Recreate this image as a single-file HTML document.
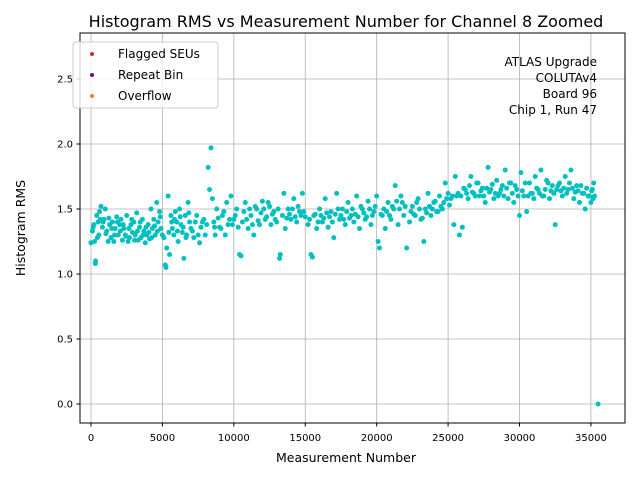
<!DOCTYPE html>
<html><head><meta charset="utf-8"><style>
body{margin:0;background:#fff;}
svg text{font-family:"DejaVu Sans","Liberation Sans",sans-serif;}
</style></head><body>
<svg id="chart" width="640" height="480" xmlns="http://www.w3.org/2000/svg">
<rect width="640" height="480" fill="#fff"/>
<text x="346" y="27" font-size="16" text-anchor="middle">Histogram RMS vs Measurement Number for Channel 8 Zoomed</text>
<g id="grid"></g>
<g id="points"></g>
<rect x="80" y="33" width="545" height="390" fill="none" stroke="#000" stroke-width="1"/>
<g id="ticks"></g>
<text x="346" y="462" font-size="12.5" text-anchor="middle">Measurement Number</text>
<text x="25" y="228" font-size="12.5" text-anchor="middle" transform="rotate(-90 25 228)">Histogram RMS</text>
<g>
<rect x="73" y="42" width="145" height="66" rx="3" fill="#fff" fill-opacity="0.8" stroke="#ccc"/>
<circle cx="92" cy="54" r="2" fill="#d62728"/>
<text x="118" y="58" font-size="12">Flagged SEUs</text>
<circle cx="92" cy="75" r="2" fill="#800080"/>
<text x="118" y="79" font-size="12">Repeat Bin</text>
<circle cx="92" cy="96" r="2" fill="#ff7f0e"/>
<text x="118" y="100" font-size="12">Overflow</text>
</g>
<g font-size="12" text-anchor="end">
<text x="597" y="66">ATLAS Upgrade</text>
<text x="597" y="82">COLUTAv4</text>
<text x="597" y="98">Board 96</text>
<text x="597" y="114">Chip 1, Run 47</text>
</g>
</svg>
<script>
const xTicks=[0,5000,10000,15000,20000,25000,30000,35000];
const yTicks=[0.0,0.5,1.0,1.5,2.0,2.5];
const yTickLabels=["0.0","0.5","1.0","1.5","2.0","2.5"];
const measurement=[0,100,200,250,300,320,400,500,550,600,700,800,900,1000,1100,1200,1300,1400,1500,1600,1700,1800,1900,2000,
2100,2200,2300,2400,2500,2600,2700,2800,2900,3000,3100,3200,3300,3400,3500,3600,3700,3800,3900,4000,4100,4200,4300,4400,4500,4600,4700,4800,4900,5000,
5100,5200,5250,5300,5400,5500,5600,5700,5800,5900,6000,6100,6200,6300,6400,6500,6600,6700,6800,6900,7000,7200,7400,7600,7800,8000,
8200,8400,8300,8500,8600,8700,8800,9000,9200,9400,9500,9600,9800,10000,10200,10400,10500,10600,10800,11000,11200,11400,11600,11800,12000,
12200,12400,12600,12800,13000,13200,13250,13400,13500,13600,13800,14000,14200,14400,14600,14800,15000,
15200,15400,15500,15600,15800,16000,16200,16400,16600,16800,17000,17200,17400,17600,17800,18000,18200,18400,18600,18800,19000,19200,19400,19600,19800,20000,
20100,20200,20400,20600,20800,21000,21200,21300,21500,21700,21900,22100,22300,22500,22700,22900,23100,23300,23400,23600,23800,24000,24200,24400,24600,24800,25000,
25200,25400,25500,25600,25800,26000,26200,26400,26600,26800,27000,27200,27400,27600,27800,28000,28200,28400,28600,28800,29000,29200,29400,29600,29800,30000,30100,
30300,30500,30700,30900,31100,31300,31500,31700,31900,32100,32300,32500,32600,32800,33000,33200,33400,33600,33800,34000,34200,34400,34600,34800,35000,35100,35200,35500,
150,450,650,850,1050,1250,1450,1650,1850,2050,2250,2450,2650,2850,3050,3250,3450,3650,3850,4050,4250,4450,4650,4850,5450,5650,5850,6050,6250,6450,6650,6850,7100,7300,7500,7700,7900,8100,8650,8900,9100,9300,9700,9900,10100,10300,10700,10900,11100,11300,11500,11700,11900,12100,12300,12500,12700,12900,13100,13700,13900,14100,14300,14500,14700,14900,15300,15700,15900,16100,16300,16500,16700,16900,17100,17300,17500,17700,17900,18100,18300,18500,18700,18900,19100,19300,19500,19700,19900,20300,20500,20700,20900,21100,21400,21600,21800,22000,22400,22600,22800,23000,23200,23500,23700,23900,24100,24300,24500,24700,24900,25100,25300,25700,25900,26100,26300,26500,26700,26900,27100,27300,27500,27700,27900,28100,28300,28500,28700,28900,29100,29300,29500,29700,29900,30200,30400,30600,30800,31000,31200,31400,31600,31800,32000,32200,32400,32700,32900,33100,33300,33500,33700,33900,34100,34300,34500,34700,34900,35050,35150,35250];
const rms=[1.24,1.33,1.38,1.25,1.08,1.1,1.45,1.4,1.3,1.48,1.52,1.36,1.42,1.5,1.33,1.25,1.38,1.28,1.4,1.25,1.35,1.44,1.3,1.38,
1.42,1.26,1.35,1.3,1.45,1.25,1.28,1.38,1.32,1.4,1.3,1.47,1.26,1.36,1.28,1.42,1.33,1.24,1.3,1.38,1.27,1.5,1.35,1.42,1.3,1.55,1.4,1.48,1.35,1.3,
1.28,1.07,1.05,1.2,1.6,1.15,1.45,1.35,1.3,1.48,1.4,1.25,1.5,1.38,1.32,1.12,1.45,1.3,1.55,1.4,1.35,1.28,1.45,1.24,1.4,1.3,
1.82,1.97,1.65,1.58,1.4,1.3,1.5,1.36,1.45,1.3,1.55,1.38,1.6,1.42,1.5,1.15,1.14,1.4,1.55,1.35,1.45,1.3,1.5,1.38,1.56,
1.42,1.55,1.38,1.48,1.4,1.12,1.15,1.45,1.62,1.35,1.5,1.42,1.58,1.4,1.48,1.62,1.44,
1.38,1.15,1.13,1.45,1.35,1.5,1.4,1.58,1.36,1.48,1.28,1.62,1.42,1.5,1.38,1.55,1.45,1.4,1.6,1.35,1.5,1.42,1.56,1.38,1.48,1.6,
1.25,1.2,1.45,1.35,1.55,1.42,1.5,1.68,1.38,1.6,1.45,1.2,1.4,1.52,1.45,1.58,1.42,1.25,1.5,1.62,1.45,1.55,1.48,1.6,1.5,1.7,1.62,
1.58,1.38,1.75,1.6,1.3,1.36,1.65,1.58,1.75,1.62,1.7,1.6,1.66,1.55,1.82,1.65,1.58,1.72,1.62,1.68,1.8,1.58,1.7,1.55,1.65,1.45,1.78,
1.6,1.48,1.7,1.62,1.75,1.65,1.8,1.6,1.72,1.58,1.68,1.38,1.65,1.7,1.6,1.75,1.65,1.8,1.58,1.68,1.55,1.62,1.5,1.6,1.55,1.65,1.7,0.0,
1.36,1.28,1.42,1.4,1.31,1.43,1.35,1.3,1.4,1.33,1.38,1.29,1.35,1.42,1.26,1.33,1.4,1.3,1.36,1.32,1.28,1.37,1.33,1.44,1.32,1.4,1.42,1.33,1.44,1.36,1.28,1.47,1.33,1.4,1.3,1.36,1.42,1.38,1.36,1.43,1.35,1.48,1.42,1.38,1.45,1.36,1.48,1.42,1.5,1.38,1.52,1.41,1.47,1.5,1.44,1.52,1.46,1.42,1.5,1.43,1.46,1.5,1.44,1.52,1.45,1.48,1.42,1.46,1.4,1.45,1.43,1.47,1.44,1.4,1.46,1.5,1.45,1.42,1.48,1.43,1.5,1.46,1.44,1.52,1.47,1.44,1.5,1.45,1.52,1.46,1.5,1.48,1.45,1.52,1.56,1.5,1.55,1.52,1.48,1.46,1.55,1.5,1.43,1.47,1.52,1.5,1.56,1.48,1.52,1.55,1.58,1.53,1.6,1.62,1.6,1.66,1.62,1.68,1.63,1.6,1.7,1.64,1.6,1.66,1.63,1.69,1.62,1.6,1.65,1.6,1.66,1.7,1.62,1.68,1.6,1.64,1.7,1.6,1.62,1.58,1.66,1.62,1.6,1.65,1.7,1.64,1.62,1.68,1.64,1.66,1.62,1.7,1.66,1.63,1.64,1.68,1.62,1.66,1.6,1.64,1.58,1.6,1.56,1.58,1.6,1.62,1.66];
const NS="http://www.w3.org/2000/svg";
function xs(v){return 91+v*(428.5/30000);}
function ys(v){return 404-v*130;}
const grid=document.getElementById('grid'),ticks=document.getElementById('ticks'),pts=document.getElementById('points');
function mk(tag,attrs,parent){const e=document.createElementNS(NS,tag);for(const k in attrs)e.setAttribute(k,attrs[k]);parent.appendChild(e);return e;}
xTicks.forEach(t=>{const x=xs(t);
const g=mk('line',{x1:x,x2:x,y1:33,y2:423,stroke:'#b0b0b0','stroke-width':0.8},grid);


mk('line',{x1:x,x2:x,y1:423,y2:426.5,stroke:'#000'},ticks);
const l=mk('text',{x:x,y:441,'font-size':10,'text-anchor':'middle'},ticks);l.textContent=t;

});
yTicks.forEach((t,i)=>{const y=ys(t);
const g=mk('line',{x1:80,x2:625,y1:y,y2:y,stroke:'#b0b0b0','stroke-width':0.8},grid);


mk('line',{x1:76.5,x2:80,y1:y,y2:y,stroke:'#000'},ticks);
const l=mk('text',{x:73,y:y+3.5,'font-size':10,'text-anchor':'end'},ticks);l.textContent=yTickLabels[i];

});
measurement.forEach((m,i)=>{const c=mk('circle',{cx:xs(m),cy:ys(rms[i]),r:2.5,fill:'#00bfbf'},pts);

});
</script>
</body></html>
